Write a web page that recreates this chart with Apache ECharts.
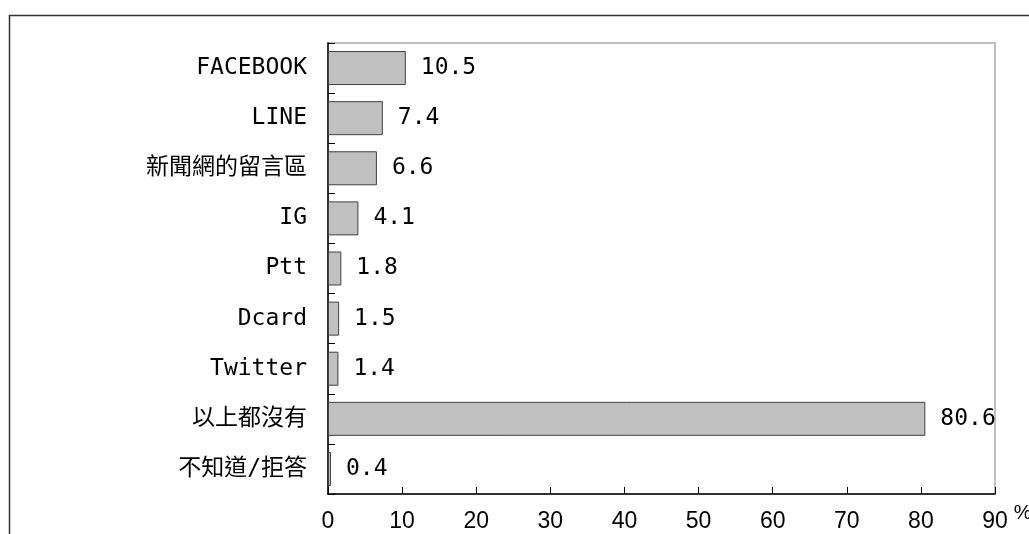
<!DOCTYPE html>
<html><head><meta charset="utf-8">
<script src="https://cdn.jsdelivr.net/npm/echarts@6/dist/echarts.min.js"></script>
<style>html,body{margin:0;padding:0;background:#fff}#c{width:1029px;height:534px}</style>
</head><body><div id="c"></div>
<script>
var categories = ['FACEBOOK','LINE','新聞網的留言區','IG','Ptt','Dcard','Twitter','以上都沒有','不知道/拒答'];
var values = [10.5, 7.4, 6.6, 4.1, 1.8, 1.5, 1.4, 80.6, 0.4];
var xTicks = {min: 0, max: 90, interval: 10};
var axisName = '%';

var chart = echarts.init(document.getElementById('c'));
var mono = '"DejaVu Sans Mono","Noto Sans CJK TC",monospace';
chart.setOption({
  animation: false,
  backgroundColor: '#fff',
  graphic: [{
    type: 'rect', left: 7, top: 13, z: -10,
    shape: {width: 1200, height: 700},
    style: {fill: 'none', stroke: '#333', lineWidth: 1.5}
  }],
  grid: {left: 328, top: 43, right: 34, bottom: 40, show: true, borderColor: '#c0c0c0', borderWidth: 2,
    backgroundColor: 'transparent', containLabel: false, outerBoundsMode: 'none'},
  xAxis: {
    type: 'value', min: xTicks.min, max: xTicks.max, interval: xTicks.interval,
    name: axisName, nameLocation: 'end', nameGap: 5,
    nameTextStyle: {fontSize: 20, color: '#000', fontFamily: 'Liberation Sans', verticalAlign: 'top', padding: [9,0,0,0]},
    axisLine: {show: true, lineStyle: {color: '#000', width: 1.5}},
    axisTick: {show: true, inside: true, length: 7, lineStyle: {color: '#000'}},
    axisLabel: {fontSize: 23, color: '#000', fontFamily: 'Liberation Sans', margin: 16},
    splitLine: {show: false}
  },
  yAxis: {
    type: 'category', data: categories, inverse: true,
    axisLine: {show: true, lineStyle: {color: '#000', width: 1.5}},
    axisTick: {show: true, inside: true, length: 7, lineStyle: {color: '#000'}},
    axisLabel: {fontSize: 23, color: '#000', fontFamily: mono, margin: 21},
    splitLine: {show: false}
  },
  series: [{
    type: 'bar', data: values, barWidth: 34,
    itemStyle: {color: '#c0c0c0', borderColor: '#404040', borderWidth: 1},
    label: {show: true, position: 'right', distance: 15, fontSize: 23, color: '#000', fontFamily: mono,
      formatter: function(p){ return p.value.toFixed(1); }}
  }]
});
</script></body></html>
